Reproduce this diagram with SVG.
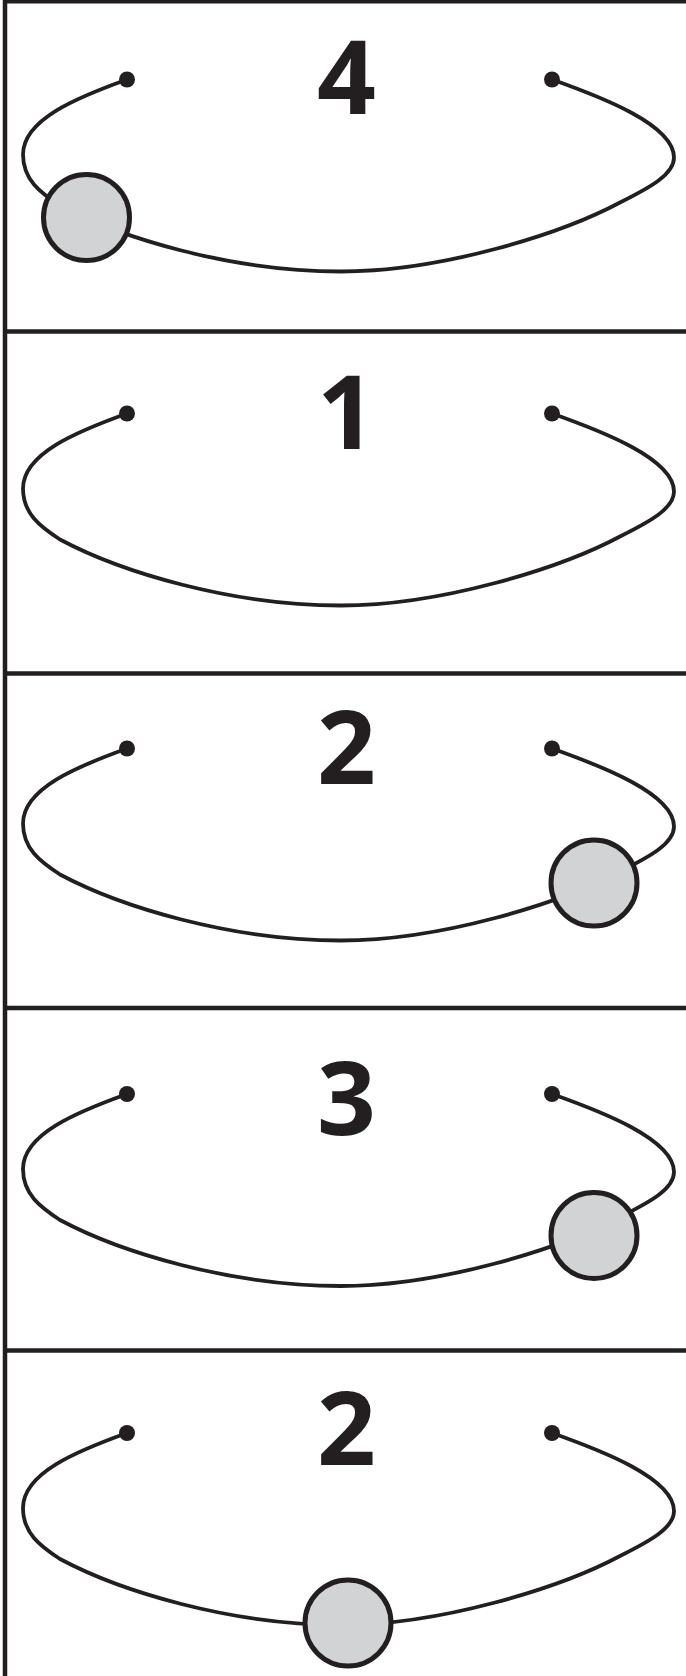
<svg xmlns="http://www.w3.org/2000/svg" xmlns:xlink="http://www.w3.org/1999/xlink" width="686" height="1676" viewBox="0 0 686 1676">
  <style>
    .frame { stroke: #231f20; stroke-width: 4.5; fill: none; }
    .orbit { stroke: #231f20; stroke-width: 3.8; fill: none; stroke-linejoin: round; }
    .dot { fill: #231f20; }
    .ball { fill: #d1d3d4; stroke: #231f20; stroke-width: 5; }
    .num { font-family: "Open Sans", "Liberation Sans", Arial, sans-serif; font-weight: 700; font-size: 103px; fill: #231f20; text-anchor: middle; }
  </style>
  <defs>
    <g id="loop">
      <path class="orbit" d="M127,0 C77,18 23,40 23,75 C23,100 40,113 60,126 C120,158 230,192 341,192 C440,192 560,155 620,123 C650,108 674,95 674,78 C674,45 600,17 552,0"/>
      <circle class="dot" cx="127" cy="0" r="8"/>
      <circle class="dot" cx="552" cy="0" r="8"/>
    </g>
  </defs>
  <rect width="686" height="1676" fill="#ffffff"/>
  <g id="frame">
    <line class="frame" x1="5" y1="0" x2="5" y2="1676"/>
    <line class="frame" x1="3" y1="1.75" x2="686" y2="1.75" style="stroke-width:3.5"/>
    <line class="frame" x1="3" y1="331.5" x2="686" y2="331.5"/>
    <line class="frame" x1="3" y1="673.5" x2="686" y2="673.5"/>
    <line class="frame" x1="3" y1="1008" x2="686" y2="1008"/>
    <line class="frame" x1="3" y1="1350.5" x2="686" y2="1350.5"/>
  </g>
  <g id="panel-1">
    <use xlink:href="#loop" href="#loop" transform="translate(0,79.5)"/>
    <circle class="ball" cx="86.5" cy="217.5" r="43"/>
    <text class="num" x="346.5" y="114">4</text>
  </g>
  <g id="panel-2">
    <use xlink:href="#loop" href="#loop" transform="translate(0,413.5)"/>
    <text class="num" x="346.5" y="449">1</text>
  </g>
  <g id="panel-3">
    <use xlink:href="#loop" href="#loop" transform="translate(0,748.5)"/>
    <circle class="ball" cx="594" cy="883" r="43"/>
    <text class="num" x="346.5" y="783.5">2</text>
  </g>
  <g id="panel-4">
    <use xlink:href="#loop" href="#loop" transform="translate(0,1094)"/>
    <circle class="ball" cx="594" cy="1235.5" r="43"/>
    <text class="num" x="346.5" y="1135">3</text>
  </g>
  <g id="panel-5">
    <use xlink:href="#loop" href="#loop" transform="translate(0,1433)"/>
    <circle class="ball" cx="348" cy="1623" r="43"/>
    <text class="num" x="346.5" y="1464.5">2</text>
  </g>
</svg>
